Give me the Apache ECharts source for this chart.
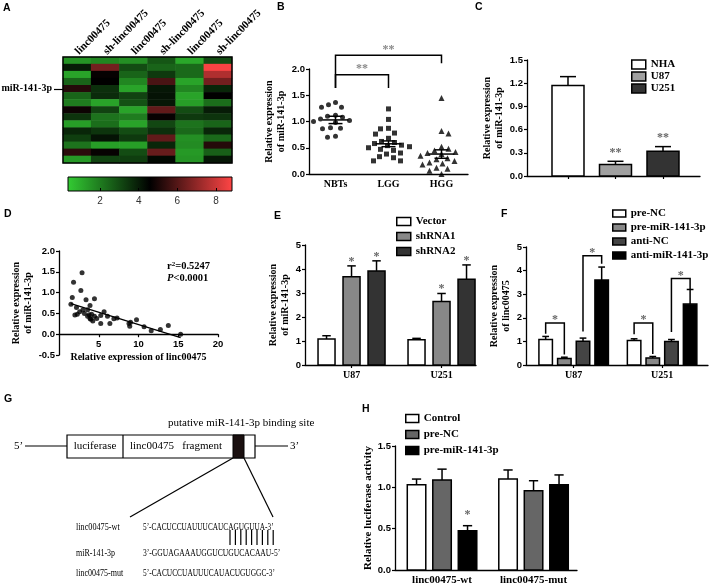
<!DOCTYPE html>
<html><head><meta charset="utf-8">
<script src="https://cdn.jsdelivr.net/npm/echarts@6/dist/echarts.min.js"></script>
<style>html,body{margin:0;padding:0;background:#fff}#c{width:709px;height:584px}</style>
</head><body><div id="c"></div>
<script>
// ---------------- DATA ----------------
// A: heatmap (rows top->bottom, columns left->right)
const aCols = ['linc00475','sh-linc00475','linc00475','sh-linc00475','linc00475','sh-linc00475'];
const aRowLabel = 'miR-141-3p';
const aLabelRow = 4;
const aValues = [
  [1.5,1.8,1.6,2.8,1.1,3.0],
  [4.0,6.5,3.0,2.5,2.4,8.7],
  [1.2,4.7,2.5,3.4,2.4,7.5],
  [2.5,4.6,1.8,5.8,1.2,6.5],
  [5.2,3.6,1.2,4.1,1.8,3.8],
  [2.5,3.7,3.2,4.2,1.2,4.6],
  [2.0,1.2,2.9,4.1,1.3,2.3],
  [4.8,3.2,1.2,6.2,3.0,4.0],
  [3.5,2.2,2.0,4.7,3.4,3.5],
  [1.3,2.3,1.2,3.1,2.2,2.5],
  [3.8,3.5,3.0,3.6,2.4,3.8],
  [3.3,4.2,3.4,6.2,1.6,2.4],
  [2.2,1.3,1.3,3.8,1.7,5.2],
  [5.3,4.7,3.0,6.3,1.4,2.6],
  [1.4,3.2,3.3,4.4,1.5,4.1]
];
const aRange = [0.34, 8.83];
const aTicks = [2,4,6,8];

// B: dot plot
const bGroups = ['NBTs','LGG','HGG'];
const bNBTs = [1.36,1.27,1.27,1.32,1.12,1.08,1.10,1.05,1.00,0.98,1.02,0.88,0.86,0.87,0.70,0.72];
const bLGG = [1.24,1.04,0.87,0.86,0.78,0.76,0.68,0.62,0.60,0.58,0.55,0.54,0.52,0.50,0.47,0.45,0.40,0.38,0.33,0.31,0.25,0.25];
const bHGG = [1.45,0.82,0.77,0.52,0.48,0.45,0.42,0.40,0.38,0.35,0.30,0.28,0.25,0.22,0.20,0.18,0.12,0.10,0.06,0.0];
const bMean = [1.03,0.575,0.38];
const bSem = [0.07,0.055,0.08];
const bBrackets = [[0,1,1.89,1.64,1.64,'**'],[0,2,2.26,1.64,2.11,'**']];

// C
const cNames = ['NHA','U87','U251'];
const cMean = [1.17,0.15,0.32];
const cSem = [0.115,0.04,0.06];
const cStars = ['','**','**'];

// D
const dX = [2.9,1.83,2.75,1.67,3.4,4.46,1.5,2.2,3.0,3.9,3.6,2.0,2.6,4.1,3.6,3.9,4.46,4.75,4.25,5.25,5.67,6.1,6.4,6.9,7.3,5.25,8.9,9.0,9.75,10.7,11.6,12.75,13.75,15.3,8.8,3.2,4.0,2.3,3.8];
const dY = [1.48,1.25,1.05,0.88,0.83,0.85,0.72,0.64,0.58,0.69,0.59,0.46,0.54,0.48,0.43,0.38,0.43,0.38,0.32,0.45,0.54,0.43,0.26,0.37,0.39,0.26,0.19,0.29,0.35,0.18,0.08,0.11,0.21,0.0,0.26,0.50,0.36,0.48,0.47];

// E
const eGroups = ['U87','U251'];
const eVector = [1.08,1.05], eVectorSem = [0.14,0.06];
const eSh1 = [3.68,2.65], eSh1Sem = [0.45,0.33];
const eSh2 = [3.92,3.57], eSh2Sem = [0.42,0.60];
const eStars1 = ['*','*'], eStars2 = ['*','*'];

// F
const fGroups = ['U87','U251'];
const fPreNC = [1.08,1.04], fPreNCSem = [0.13,0.07];
const fPreMiR = [0.28,0.30], fPreMiRSem = [0.05,0.06];
const fAntiNC = [1.01,1.00], fAntiNCSem = [0.13,0.08];
const fAntiMiR = [3.60,2.58], fAntiMiRSem = [0.55,0.62];
// [group, barFrom, barTo, top, leftLegBottom, rightLegBottom]
const fBrackets = [[0,0,1,1.78,1.32,0.45],[0,2,3,4.63,1.42,4.29],[1,0,1,1.78,1.30,0.47],[1,2,3,3.67,1.40,3.20]];

// H
const hGroups = ['linc00475-wt','linc00475-mut'];
const hControl = [1.03,1.10], hControlSem = [0.07,0.11];
const hPreNC = [1.09,0.96], hPreNCSem = [0.13,0.12];
const hPreMiR = [0.476,1.03], hPreMiRSem = [0.06,0.12];
const hStars = ['*',''];

// ---------------- STYLE / LAYOUT ----------------
const SERIF = '"Liberation Serif","Times New Roman",serif';
const SANS = '"Liberation Sans",Arial,sans-serif';
const NUM = {fontFamily:SANS, fontWeight:'bold', fontSize:9.5, color:'#000'};
const LINE = {color:'#000', width:1.3};
const GR = {
  A:{left:63,top:57,width:169,height:106},
  AC:{left:68,top:177,width:164,height:14},
  B:{left:309,top:69,width:159,height:105},
  C:{left:527,top:60,width:173,height:116},
  D:{left:59,top:251,width:159,height:104},
  E:{left:305,top:245,width:171,height:120},
  F:{left:526,top:247,width:182,height:118},
  H:{left:395,top:446,width:182,height:124}
};
const GRID_ORDER = ['A','AC','B','C','D','E','F','H'];
const gi = k => GRID_ORDER.indexOf(k);

const chart = echarts.init(document.getElementById('c'), null, {renderer:'canvas', width:709, height:584});

function valY(g, min, max, interval, dec, name, gap, nameSize) {
  return {type:'value', gridIndex:gi(g), min, max, interval,
    axisLine:{show:true, onZero:false, lineStyle:LINE},
    axisTick:{show:true, length:3, lineStyle:{color:'#000', width:1.2}},
    splitLine:{show:false},
    axisLabel:{...NUM, margin:4, formatter:v => (Math.abs(v) < 1e-9 ? 0 : v).toFixed(dec)},
    name, nameLocation:'middle', nameGap:gap, nameRotate:90,
    nameTextStyle:{fontFamily:SERIF, fontWeight:'bold', fontSize:nameSize || 10, lineHeight:12, color:'#000'}
  };
}
function barX(g, min, max, names, showTick, labelSize) {
  const idx = names.map((_, i) => i);
  return {type:'value', gridIndex:gi(g), min, max,
    axisLine:{show:true, onZero:false, lineStyle:LINE},
    axisTick:{show:showTick, length:3, customValues:idx, lineStyle:{color:'#000', width:1.2}},
    splitLine:{show:false},
    axisLabel:{show: names.some(n => n), customValues:idx, formatter:v => names[Math.round(v)] || '',
      fontFamily:SERIF, fontWeight:'bold', fontSize:labelSize || 10, color:'#000', margin:5}
  };
}

// custom bar with one-sided SEM bar and optional star
function barSeries(name, xi, yi, vals, sems, stars, offset, w, color, starDist, xStart) {
  const x0 = xStart || 0;
  return {
    type:'custom', name, xAxisIndex:xi, yAxisIndex:yi, silent:true, clip:false,
    itemStyle:{color, borderColor:'#000', borderWidth:1.5},
    data: vals.map((v, i) => [x0 + i, v, v + sems[i]]),
    encode:{x:0, y:[1,2]},
    renderItem(params, api) {
      const x = api.value(0), v = api.value(1), e = api.value(2);
      const p0 = api.coord([x, 0]), p1 = api.coord([x, v]), pe = api.coord([x, e]);
      const cx = p0[0] + offset;
      const ch = [
        {type:'line', shape:{x1:cx, y1:p1[1], x2:cx, y2:pe[1]}, style:{stroke:'#000', lineWidth:1.5}},
        {type:'line', shape:{x1:cx - w/4, y1:pe[1], x2:cx + w/4, y2:pe[1]}, style:{stroke:'#000', lineWidth:1.5}},
        {type:'rect', shape:{x:cx - w/2, y:p1[1], width:w, height:p0[1] - p1[1]}, style:{fill:color, stroke:'#000', lineWidth:1.5}}
      ];
      const s = stars ? stars[params.dataIndex] : '';
      if (s) ch.push({type:'text', x:cx, y:pe[1] - starDist + 2.4,
        style:{text:s, fill:'#666', fontSize:12, fontFamily:SERIF, fontWeight:'bold', align:'center', verticalAlign:'middle'}});
      return {type:'group', children:ch};
    }
  };
}

// beeswarm layout (pixel based) for panel B
function swarm(vals, pxY, pxX, d) {
  const order = vals.map((_, i) => i).sort((a, b) => vals[b] - vals[a]);
  const placed = [], off = new Array(vals.length).fill(0);
  order.forEach((i, n) => {
    const y = vals[i] * pxY;
    for (let k = 0; k < 200; k++) {
      const sgn = ((k + n) % 2) ? 1 : -1;
      const dx = sgn * Math.ceil(k / 2) * 1;
      if (placed.every(p => Math.hypot(dx - p[0], y - p[1]) >= d)) { off[i] = dx; placed.push([dx, y]); break; }
    }
  });
  return off.map(o => o / pxX);
}
const bPxY = GR.B.height / 2, bPxX = GR.B.width / 3;
function bData(vals, g) { const o = swarm(vals, bPxY, bPxX, 7.2); return vals.map((v, i) => [g + o[i], v]); }

// regression for D
const n = dX.length;
const mx = dX.reduce((a, b) => a + b, 0) / n, my = dY.reduce((a, b) => a + b, 0) / n;
let sxy = 0, sxx = 0;
for (let i = 0; i < n; i++) { sxy += (dX[i] - mx) * (dY[i] - my); sxx += (dX[i] - mx) ** 2; }
const slope = sxy / sxx, icpt = my - slope * mx;
const xLo = Math.min(...dX), xHi = Math.max(...dX);

// ---------------- OPTION ----------------
const grids = GRID_ORDER.map(k => ({...GR[k], outerBoundsMode:'none', containLabel:false}));
grids[gi('AC')].show = true;
grids[gi('AC')].borderColor = '#000';
grids[gi('AC')].borderWidth = 1;
grids[gi('AC')].backgroundColor = new echarts.graphic.LinearGradient(0, 0, 1, 0, [
  {offset:0, color:'#33cc33'}, {offset:0.5, color:'#000000'}, {offset:1, color:'#ff4545'}]);

const dZeroShift = GR.D.height * 0.5 / 2.5; // y=0 sits 0.5 units above the bottom of a -0.5..2 axis

const xAxis = [
  {type:'category', gridIndex:gi('A'), position:'top', data:aCols.map((_, i) => 'c' + i),
   axisLine:{show:false}, axisTick:{show:false}, splitLine:{show:false},
   axisLabel:{interval:0, rotate:-45, margin:4, formatter:(v, i) => aCols[i], fontFamily:SERIF, fontWeight:'bold', fontSize:11, color:'#000'}},
  {type:'value', gridIndex:gi('AC'), min:aRange[0], max:aRange[1], axisLine:{show:false}, splitLine:{show:false},
   axisTick:{show:true, inside:true, length:3, customValues:aTicks, lineStyle:{color:'#000'}},
   axisLabel:{customValues:aTicks, fontFamily:SANS, fontSize:10, color:'#333', margin:5}},
  {type:'category', gridIndex:gi('B'), data:bGroups, axisLine:{show:true, lineStyle:LINE}, axisTick:{show:false},
   axisLabel:{fontFamily:SERIF, fontWeight:'bold', fontSize:10, color:'#000', margin:5}},
  {type:'value', gridIndex:gi('B'), min:-0.5, max:2.5, show:false},
  barX('C', -0.863, 2.779, ['', '', ''], true),
  {type:'value', gridIndex:gi('D'), min:0, max:20, interval:5, offset:-dZeroShift,
   axisLine:{show:true, onZero:false, lineStyle:LINE}, axisTick:{show:true, length:3, lineStyle:{color:'#000', width:1.2}},
   splitLine:{show:false}, axisLabel:{...NUM, margin:5, showMinLabel:false},
   name:'Relative expression of linc00475', nameLocation:'middle', nameGap:18,
   nameTextStyle:{fontFamily:SERIF, fontWeight:'bold', fontSize:10, color:'#000'}},
  barX('E', -0.517, 1.383, eGroups, true, 10),
  barX('F', -0.539, 1.519, fGroups, true, 10),
  barX('H', -0.514, 1.475, hGroups, false, 11)
];
const yAxis = [
  {type:'category', gridIndex:gi('A'), inverse:true, data:aValues.map((_, i) => 'r' + i),
   axisLine:{show:false}, splitLine:{show:false},
   axisTick:{show:true, alignWithLabel:true, length:9, interval:(i) => i === aLabelRow, lineStyle:{color:'#000', width:1.2}},
   axisLabel:{interval:0, margin:11, formatter:(v, i) => i === aLabelRow ? aRowLabel : '', fontFamily:SERIF, fontWeight:'bold', fontSize:10, color:'#000'}},
  {type:'value', gridIndex:gi('AC'), show:false, min:0, max:1},
  valY('B', 0, 2, 0.5, 1, 'Relative expression\nof miR-141-3p', 18),
  valY('C', 0, 1.5, 0.3, 1, 'Relative expression\nof miR-141-3p', 19),
  valY('D', -0.5, 2, 0.5, 1, 'Relative expression\nof miR-141-3p', 21),
  valY('E', 0, 5, 1, 0, 'Relative expression\nof miR-141-3p', 13),
  valY('F', 0, 5, 1, 0, 'Relative expression\nof linc00475', 8),
  valY('H', 0, 1.5, 0.5, 1, 'Relative luciferase activity', 21, 11)
];

const heatData = [];
aValues.forEach((row, r) => row.forEach((v, c) => heatData.push([c, r, v])));

const series = [
  {type:'heatmap', xAxisIndex:0, yAxisIndex:0, data:heatData, silent:true, itemStyle:{borderWidth:0}},
  // B
  {type:'scatter', xAxisIndex:3, yAxisIndex:2, data:bData(bNBTs, 0), symbol:'circle', symbolSize:5, itemStyle:{color:'#000'}, silent:true},
  {type:'scatter', xAxisIndex:3, yAxisIndex:2, data:bData(bLGG, 1), symbol:'rect', symbolSize:5, itemStyle:{color:'#000'}, silent:true},
  {type:'scatter', xAxisIndex:3, yAxisIndex:2, data:bData(bHGG, 2), symbol:'triangle', symbolSize:6, itemStyle:{color:'#000'}, silent:true},
  {type:'custom', xAxisIndex:3, yAxisIndex:2, silent:true, clip:false, z:5,
   data:bMean.map((m, i) => [i, m, bSem[i]]),
   renderItem(p, api) {
     const x = api.value(0), m = api.value(1), s = api.value(2);
     const pm = api.coord([x, m]), pu = api.coord([x, m + s]), pl = api.coord([x, m - s]);
     const st = {stroke:'#000', lineWidth:1.5};
     return {type:'group', children:[
       {type:'line', shape:{x1:pm[0] - 13, y1:pm[1], x2:pm[0] + 13, y2:pm[1]}, style:st},
       {type:'line', shape:{x1:pm[0], y1:pu[1], x2:pm[0], y2:pl[1]}, style:st},
       {type:'line', shape:{x1:pm[0] - 7, y1:pu[1], x2:pm[0] + 7, y2:pu[1]}, style:st},
       {type:'line', shape:{x1:pm[0] - 7, y1:pl[1], x2:pm[0] + 7, y2:pl[1]}, style:st}]};
   }},
  {type:'custom', xAxisIndex:3, yAxisIndex:2, silent:true, clip:false,
   data:bBrackets.map(b => b.slice(0, 5)),
   renderItem(p, api) {
     const b = bBrackets[p.dataIndex];
     const a0 = api.coord([b[0], b[3]]), t0 = api.coord([b[0], b[2]]), t1 = api.coord([b[1], b[2]]), a1 = api.coord([b[1], b[4]]);
     return {type:'group', children:[
       {type:'polyline', shape:{points:[a0, t0, t1, a1]}, style:{stroke:'#000', lineWidth:1.5, fill:null}},
       {type:'text', x:(t0[0] + t1[0]) / 2, y:t0[1] - 8 + 2.4, style:{text:b[5], fill:'#888', fontSize:12, fontFamily:SERIF, fontWeight:'bold', align:'center', verticalAlign:'middle'}}]};
   }},
  // C
  barSeries('C|NHA', 4, 3, [cMean[0]], [cSem[0]], [cStars[0]], 0, 32, '#ffffff', 11, 0),
  barSeries('C|U87', 4, 3, [cMean[1]], [cSem[1]], [cStars[1]], 0, 32, '#a0a0a0', 11, 1),
  barSeries('C|U251', 4, 3, [cMean[2]], [cSem[2]], [cStars[2]], 0, 32, '#333333', 11, 2),
  // D
  {type:'scatter', xAxisIndex:5, yAxisIndex:4, data:dX.map((x, i) => [x, dY[i]]), symbolSize:5, itemStyle:{color:'#000'}, silent:true},
  {type:'line', xAxisIndex:5, yAxisIndex:4, data:[[xLo, icpt + slope * xLo], [xHi, icpt + slope * xHi]], symbol:'none', lineStyle:{color:'#000', width:1.3}, silent:true},
  // E
  barSeries('E|Vector', 6, 5, eVector, eVectorSem, null, -25, 17, '#ffffff', 6.5),
  barSeries('E|shRNA1', 6, 5, eSh1, eSh1Sem, eStars1, 0, 17, '#888888', 6.5),
  barSeries('E|shRNA2', 6, 5, eSh2, eSh2Sem, eStars2, 25, 17, '#333333', 6.5),
  // F
  barSeries('F|pre-NC', 7, 6, fPreNC, fPreNCSem, null, -28, 13.5, '#ffffff', 6),
  barSeries('F|pre-miR-141-3p', 7, 6, fPreMiR, fPreMiRSem, null, -9.33, 13.5, '#888888', 6),
  barSeries('F|anti-NC', 7, 6, fAntiNC, fAntiNCSem, null, 9.33, 13.5, '#444444', 6),
  barSeries('F|anti-miR-141-3p', 7, 6, fAntiMiR, fAntiMiRSem, null, 28, 13.5, '#000000', 6),
  {type:'custom', xAxisIndex:7, yAxisIndex:6, silent:true, clip:false,
   data:fBrackets.map(b => [b[0], b[3], b[4], b[5]]),
   renderItem(p, api) {
     const b = fBrackets[p.dataIndex];
     const offs = [-28, -9.33, 9.33, 28];
     const base = api.coord([b[0], b[3]]);
     const xa = base[0] + offs[b[1]], xb = base[0] + offs[b[2]];
     const yt = base[1], ya = api.coord([b[0], b[4]])[1], yb = api.coord([b[0], b[5]])[1];
     return {type:'group', children:[
       {type:'polyline', shape:{points:[[xa, ya], [xa, yt], [xb, yt], [xb, yb]]}, style:{stroke:'#000', lineWidth:1.5, fill:null}},
       {type:'text', x:(xa + xb) / 2, y:yt - 5 + 2.4, style:{text:'*', fill:'#666', fontSize:12, fontFamily:SERIF, fontWeight:'bold', align:'center', verticalAlign:'middle'}}]};
   }},
  // H
  barSeries('H|Control', 8, 7, hControl, hControlSem, null, -25.5, 18.5, '#ffffff', 13),
  barSeries('H|pre-NC', 8, 7, hPreNC, hPreNCSem, null, 0, 18.5, '#666666', 13),
  barSeries('H|pre-miR-141-3p', 8, 7, hPreMiR, hPreMiRSem, hStars, 25.5, 18.5, '#000000', 13)
];

function legendFor(names, colors, left, top, iw, ih, gap) {
  return {left, top, orient:'vertical', padding:0, itemWidth:iw, itemHeight:ih, itemGap:gap, icon:'rect', selectedMode:false,
    data:names.map((nm, i) => ({name:nm, icon:'rect', itemStyle:{color:colors[i], borderColor:'#000', borderWidth:1.5}})),
    formatter:nm => nm.split('|')[1],
    textStyle:{fontFamily:SERIF, fontWeight:'bold', fontSize:11, color:'#000'}};
}
const legend = [
  legendFor(['C|NHA','C|U87','C|U251'], ['#ffffff','#a0a0a0','#333333'], 631, 59, 14, 9, 1),
  legendFor(['E|Vector','E|shRNA1','E|shRNA2'], ['#ffffff','#888888','#333333'], 396, 216, 14, 8, 4),
  legendFor(['F|pre-NC','F|pre-miR-141-3p','F|anti-NC','F|anti-miR-141-3p'], ['#ffffff','#888888','#444444','#000000'], 612, 208, 13, 7, 3),
  legendFor(['H|Control','H|pre-NC','H|pre-miR-141-3p'], ['#ffffff','#666666','#000000'], 405, 413, 13, 8, 5)
];

// graphic: panel letters, heatmap frame, D stats, G diagram
const L = (t, x, y) => ({type:'text', x, y, style:{text:t, fontFamily:SANS, fontWeight:'bold', fontSize:10.5, fill:'#000', verticalAlign:'top'}});
const T = (t, x, y, o) => ({type:'text', x, y, ...(o || {}), style:Object.assign({text:t, fontFamily:SERIF, fontSize:11, fill:'#000', verticalAlign:'middle'}, (o && o.st) || {})});
const Ln = (x1, y1, x2, y2, w) => ({type:'line', shape:{x1, y1, x2, y2}, style:{stroke:'#000', lineWidth:w || 1.2}});
const seqStyle = {fontSize:10};
const graphic = [
  L('A', 3, 3), L('B', 277, 2), L('C', 475, 2), L('D', 4, 209), L('E', 274, 211), L('F', 501, 209), L('G', 4, 394), L('H', 362, 404),
  {type:'rect', shape:{x:GR.A.left, y:GR.A.top, width:GR.A.width, height:GR.A.height}, style:{fill:null, stroke:'#000', lineWidth:1.5}, z:100},
  {type:'text', x:167, y:266, style:{text:'{n|r}{s|2}{n|=0.5247}', verticalAlign:'middle',
    rich:{n:{fontFamily:SERIF, fontWeight:'bold', fontSize:10.5, fill:'#000'}, s:{fontFamily:SERIF, fontWeight:'bold', fontSize:7, fill:'#000', verticalAlign:'top'}}}},
  {type:'text', x:167, y:278, style:{text:'{i|P}{n|<0.0001}', verticalAlign:'middle',
    rich:{n:{fontFamily:SERIF, fontWeight:'bold', fontSize:10.5, fill:'#000'}, i:{fontFamily:SERIF, fontWeight:'bold', fontStyle:'italic', fontSize:10.5, fill:'#000'}}}},
  // G
  T('putative miR-141-3p binding site', 168, 423),
  T('5’', 14, 446), Ln(25, 446, 67, 446),
  {type:'rect', shape:{x:67, y:435, width:188, height:23}, style:{fill:null, stroke:'#000', lineWidth:1.2}},
  Ln(123, 435, 123, 458),
  T('luciferase', 95, 446.5, {st:{align:'center'}}),
  T('linc00475   fragment', 130, 446.5),
  {type:'rect', shape:{x:233, y:435, width:11, height:23}, style:{fill:'#1a1010', stroke:'#000', lineWidth:1}},
  Ln(255, 446, 288, 446), T('3’', 290, 446),
  Ln(233, 458, 130, 517), Ln(244, 458, 273, 517),
  T('linc00475-wt', 76, 527, {scaleX:0.82, st:seqStyle}),
  T('5’-CACUCCUAUUUCAUCAGUGUUA-3’', 143, 527, {scaleX:0.73, st:seqStyle}),
  T('miR-141-3p', 76, 553, {scaleX:0.8, st:seqStyle}),
  T('3’-GGUAGAAAUGGUCUGUCACAAU-5’', 143, 553, {scaleX:0.76, st:seqStyle}),
  T('linc00475-mut', 76, 573, {scaleX:0.8, st:seqStyle}),
  T('5’-CACUCCUAUUUCAUACUGUGGC-3’', 143, 573, {scaleX:0.74, st:seqStyle})
];
for (let i = 0; i < 9; i++) graphic.push(Ln(230 + i * 5.4, 530, 230 + i * 5.4, 545, 1.2));

chart.setOption({
  animation:false,
  textStyle:{fontFamily:SANS},
  grid:grids, xAxis, yAxis, series, legend, graphic,
  visualMap:[{type:'continuous', show:false, seriesIndex:0, dimension:2, min:aRange[0], max:aRange[1],
    inRange:{color:['#33cc33','#000000','#ff4545']}}]
});
</script></body></html>
